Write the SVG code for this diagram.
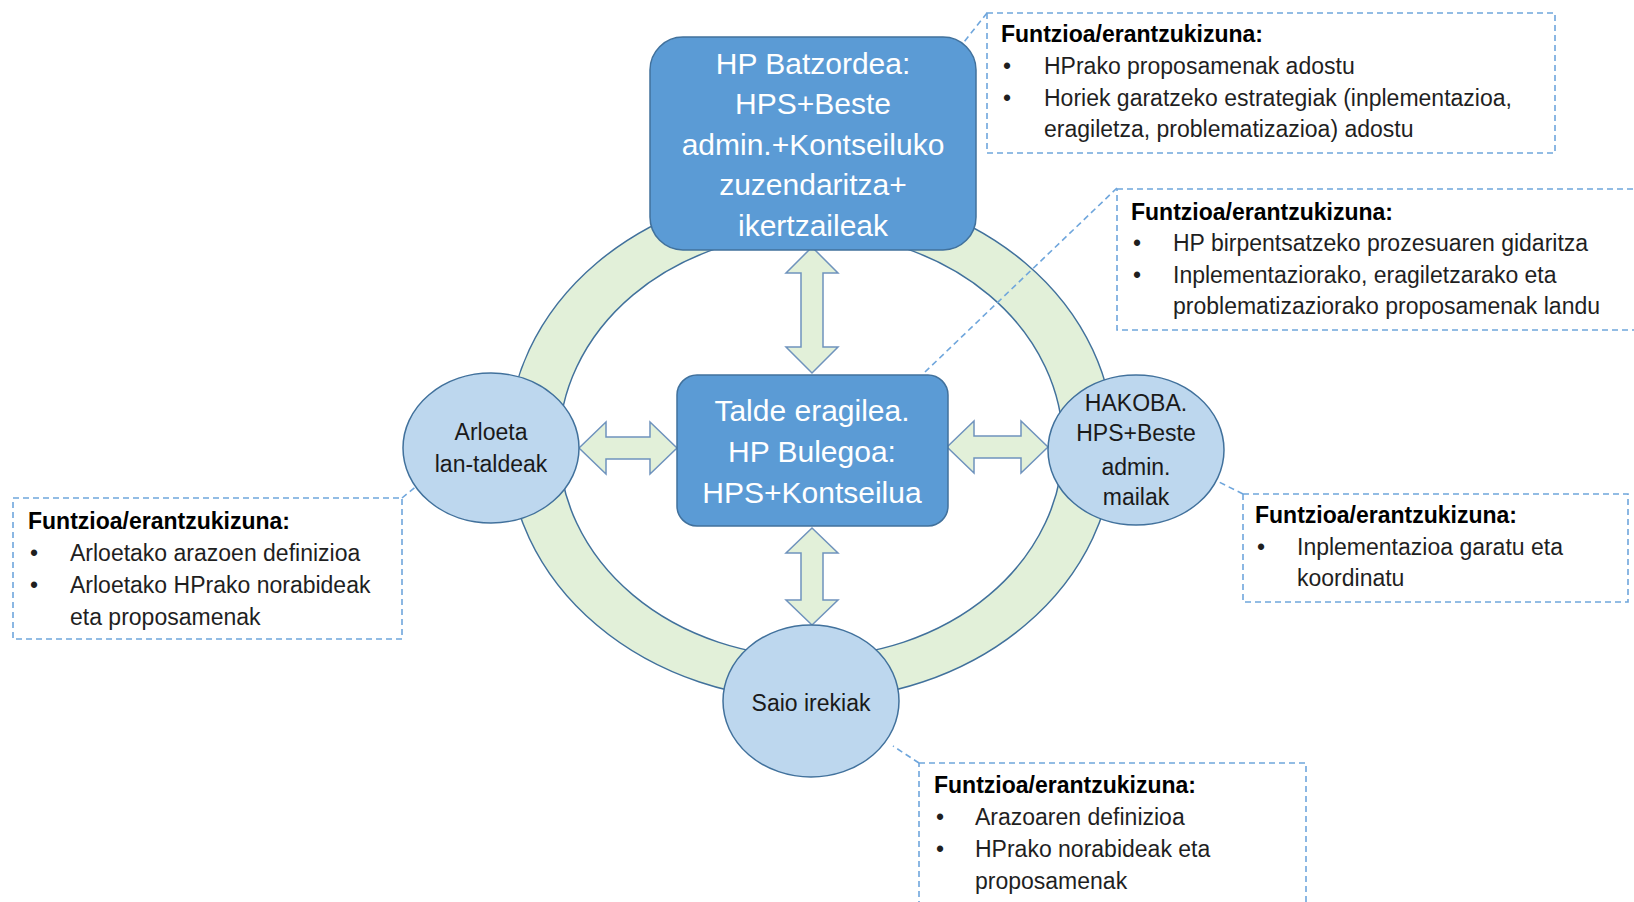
<svg xmlns="http://www.w3.org/2000/svg" width="1634" height="902" viewBox="0 0 1634 902">
<style>
.ring{fill:#E2F0D9;stroke:#41719C;stroke-width:1.5;fill-rule:evenodd}
.arr{fill:#E2F0D9;stroke:#6F93BD;stroke-width:1.5;stroke-linejoin:miter}
.box{fill:#5B9BD5;stroke:#41719C;stroke-width:1.5}
.ell{fill:#BDD7EE;stroke:#41719C;stroke-width:1.5}
.dash{fill:none;stroke:#6FA6DC;stroke-width:1.6;stroke-dasharray:6 4}
.wt{font-family:"Liberation Sans",Arial,sans-serif;font-size:30px;fill:#FFFFFF;text-anchor:middle}
.et{font-family:"Liberation Sans",Arial,sans-serif;font-size:23px;fill:#1A1A1A;text-anchor:middle}
.ct{font-family:"Liberation Sans",Arial,sans-serif;font-size:23px;fill:#1F1F1F}
.ch{font-family:"Liberation Sans",Arial,sans-serif;font-size:23px;font-weight:bold;fill:#000000}
</style>
<rect width="1634" height="902" fill="#FFFFFF"/>
<g id="ring">
<path class="ring" d="M508,444 A303,256 0 1,0 1114,444 A303,256 0 1,0 508,444 Z M559,445 A252,212 0 1,0 1063,445 A252,212 0 1,0 559,445 Z"/>
</g>
<g id="connectors">
<path class="arr" d="M812,247 L838,273 L823,273 L823,347 L838,347 L812,373 L786,347 L801,347 L801,273 L786,273 Z"/>
<path class="arr" d="M812,528 L838,553 L823,553 L823,600 L838,600 L812,625 L786,600 L801,600 L801,553 L786,553 Z"/>
<path class="arr" d="M579,448 L606,422 L606,437 L650,437 L650,422 L677,448 L650,474 L650,459 L606,459 L606,474 Z"/>
<path class="arr" d="M947,447 L974,421 L974,436 L1021,436 L1021,421 L1048,447 L1021,473 L1021,458 L974,458 L974,473 Z"/>
<line class="dash" x1="987" y1="13" x2="964" y2="42"/>
<line class="dash" x1="1117" y1="188" x2="925" y2="372"/>
<line class="dash" x1="402" y1="498" x2="418" y2="485"/>
<line class="dash" x1="1243" y1="494" x2="1219" y2="482"/>
<line class="dash" x1="919" y1="763" x2="893" y2="746"/>
</g>
<g id="callout-batzordea">
<rect class="dash" x="987" y="13" width="568" height="140"/>
<text class="ch" x="1001" y="42">Funtzioa/erantzukizuna:</text>
<text class="ct" x="1003" y="74">•</text>
<text class="ct" x="1044" y="74">HPrako proposamenak adostu</text>
<text class="ct" x="1003" y="106">•</text>
<text class="ct" x="1044" y="106">Horiek garatzeko estrategiak (inplementazioa,</text>
<text class="ct" x="1044" y="137">eragiletza, problematizazioa) adostu</text>
</g>
<g id="callout-talde">
<rect class="dash" x="1117" y="189" width="530" height="141"/>
<text class="ch" x="1131" y="220">Funtzioa/erantzukizuna:</text>
<text class="ct" x="1133" y="251">•</text>
<text class="ct" x="1173" y="251">HP birpentsatzeko prozesuaren gidaritza</text>
<text class="ct" x="1133" y="283">•</text>
<text class="ct" x="1173" y="283">Inplementaziorako, eragiletzarako eta</text>
<text class="ct" x="1173" y="314">problematizaziorako proposamenak landu</text>
</g>
<g id="callout-arloeta">
<rect class="dash" x="13" y="498" width="389" height="141"/>
<text class="ch" x="28" y="529">Funtzioa/erantzukizuna:</text>
<text class="ct" x="30" y="561">•</text>
<text class="ct" x="70" y="561">Arloetako arazoen definizioa</text>
<text class="ct" x="30" y="593">•</text>
<text class="ct" x="70" y="593">Arloetako HPrako norabideak</text>
<text class="ct" x="70" y="625">eta proposamenak</text>
</g>
<g id="callout-hakoba">
<rect class="dash" x="1243" y="494" width="385" height="108"/>
<text class="ch" x="1255" y="523">Funtzioa/erantzukizuna:</text>
<text class="ct" x="1257" y="555">•</text>
<text class="ct" x="1297" y="555">Inplementazioa garatu eta</text>
<text class="ct" x="1297" y="586">koordinatu</text>
</g>
<g id="callout-saio">
<rect class="dash" x="919" y="763" width="387" height="160"/>
<text class="ch" x="934" y="793">Funtzioa/erantzukizuna:</text>
<text class="ct" x="936" y="825">•</text>
<text class="ct" x="975" y="825">Arazoaren definizioa</text>
<text class="ct" x="936" y="857">•</text>
<text class="ct" x="975" y="857">HPrako norabideak eta</text>
<text class="ct" x="975" y="889">proposamenak</text>
</g>
<g id="node-batzordea">
<rect class="box" x="650" y="37" width="326" height="213" rx="33"/>
<text class="wt" x="813" y="74">HP Batzordea:</text>
<text class="wt" x="813" y="114">HPS+Beste</text>
<text class="wt" x="813" y="155">admin.+Kontseiluko</text>
<text class="wt" x="813" y="195">zuzendaritza+</text>
<text class="wt" x="813" y="236">ikertzaileak</text>
</g>
<g id="node-talde">
<rect class="box" x="677" y="375" width="271" height="151" rx="20"/>
<text class="wt" x="812" y="421">Talde eragilea.</text>
<text class="wt" x="812" y="462">HP Bulegoa:</text>
<text class="wt" x="812" y="503">HPS+Kontseilua</text>
</g>
<g id="node-arloeta">
<ellipse class="ell" cx="491" cy="448" rx="88" ry="75"/>
<text class="et" x="491" y="440">Arloeta</text>
<text class="et" x="491" y="472">lan-taldeak</text>
</g>
<g id="node-hakoba">
<ellipse class="ell" cx="1136" cy="450" rx="88" ry="75"/>
<text class="et" x="1136" y="411">HAKOBA.</text>
<text class="et" x="1136" y="441">HPS+Beste</text>
<text class="et" x="1136" y="475">admin.</text>
<text class="et" x="1136" y="505">mailak</text>
</g>
<g id="node-saio">
<ellipse class="ell" cx="811" cy="701" rx="88" ry="76"/>
<text class="et" x="811" y="711">Saio irekiak</text>
</g>
</svg>
